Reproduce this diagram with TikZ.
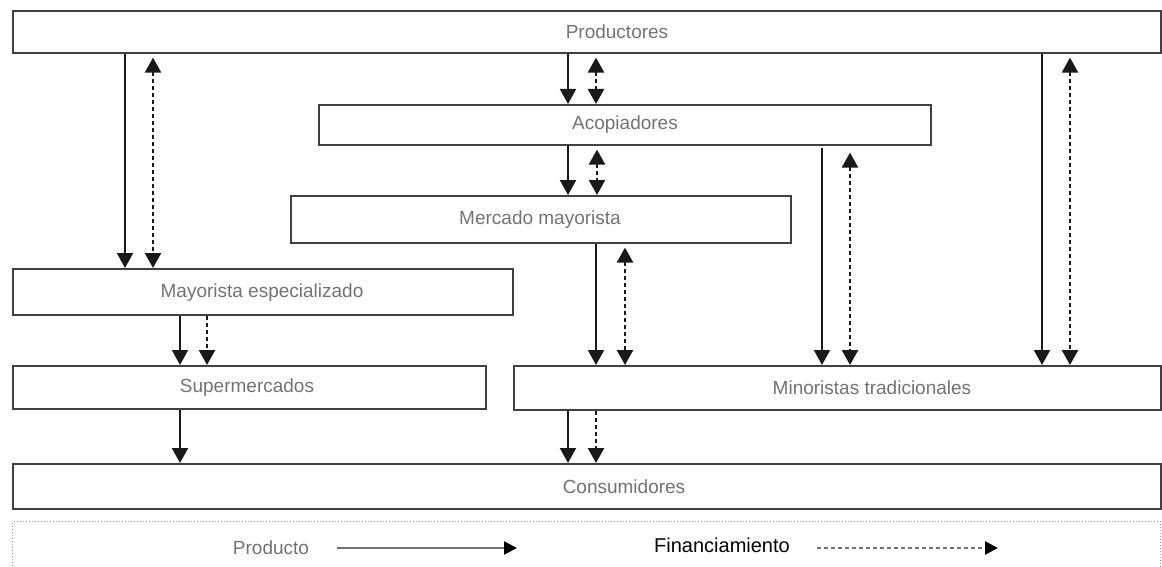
\documentclass[tikz,border=0pt]{standalone}
\usepackage{fontspec}
\setmainfont{Liberation Sans}
\usetikzlibrary{arrows.meta}
\begin{document}
\begin{tikzpicture}[x=1pt,y=-1pt,
  box/.style={draw=black!75, line width=1.6pt, inner sep=0pt, anchor=north west},
  lbl/.style={text=black!55, font=\fontsize{19}{22}\selectfont, inner sep=0pt},
  flow/.style={line width=2pt, draw=black!90, -{Triangle[length=15pt,width=16pt]}},
  fin/.style={flow, line width=2.4pt, dash pattern=on 4pt off 3pt},
  finboth/.style={fin, {Triangle[length=15pt,width=16pt]}-{Triangle[length=15pt,width=16pt]}, shorten <=4pt},
  keytip/.style={-{Triangle[length=13pt,width=13pt,color=black,fill=black]}},
]
\useasboundingbox[fill=white] (0,0) rectangle (1162,567);

% boxes of the chain
\node[box, minimum width=1148pt, minimum height=42pt] (P)  at (12,10)  {};
\node[box, minimum width=612pt,  minimum height=40pt] (A)  at (318,104) {};
\node[box, minimum width=500pt,  minimum height=47pt] (MM) at (290,195) {};
\node[box, minimum width=500pt,  minimum height=46pt] (ME) at (12,268)  {};
\node[box, minimum width=473pt,  minimum height=43pt] (S)  at (12,365)  {};
\node[box, minimum width=647pt,  minimum height=44pt] (MT) at (513,365) {};
\node[box, minimum width=1148pt, minimum height=45pt] (C)  at (12,463)  {};

% legend frame (open at the bottom edge of the page)
\node[box, draw=black!40, line width=1pt, dotted, minimum width=1148pt, minimum height=70pt] (L) at (12,521) {};

% labels
\node[lbl] (tP)  at (617,32)  {Productores};
\node[lbl] (tA)  at (625,125) {Acopiadores};
\node[lbl] (tMM) at (540,220) {Mercado mayorista};
\node[lbl] (tME) at (262,293) {Mayorista especializado};
\node[lbl] (tS)  at (247,388) {Supermercados};
\node[lbl] (tMT) at (872,388) {Minoristas tradicionales};
\node[lbl] (tC)  at (624,487) {Consumidores};

% product (solid) and finance (dashed) flows
\draw[flow]    (P.south -| 125,0) -- (ME.north -| 125,0);
\draw[finboth] (P.south -| 153,0) -- (ME.north -| 153,0);

\draw[flow]    (P.south -| 568,0) -- (A.north -| 568,0);
\draw[finboth] (P.south -| 596,0) -- (A.north -| 596,0);

\draw[flow]    (A.south -| 568,0) -- (MM.north -| 568,0);
\draw[finboth] (A.south -| 597,0) -- (MM.north -| 597,0);

\draw[flow]    (MM.south -| 596,0) -- (MT.north -| 596,0);
\draw[finboth] (MM.south -| 625,0) -- (MT.north -| 625,0);

\draw[flow, shorten <=2pt] (A.south -| 822,0) -- (MT.north -| 822,0);
\draw[finboth, shorten <=7pt] (A.south -| 850,0) -- (MT.north -| 850,0);

\draw[flow]    (P.south -| 1042,0) -- (MT.north -| 1042,0);
\draw[finboth] (P.south -| 1070,0) -- (MT.north -| 1070,0);

\draw[flow]    (ME.south -| 180,0) -- (S.north -| 180,0);
\draw[fin]     (ME.south -| 207,0) -- (S.north -| 207,0);

\draw[flow]    (S.south -| 180,0) -- (C.north -| 180,0);

\draw[flow]    (MT.south -| 568,0) -- (C.north -| 568,0);
\draw[fin]     (MT.south -| 596,0) -- (C.north -| 596,0);

% legend
\node[lbl] (lp) at (271,548) {Producto};
\coordinate (pa) at (337,548);
\coordinate (pb) at (517,548);
\draw[line width=2.4pt, draw=black!55, keytip] (pa) -- (pb);

\node[inner sep=0pt, font=\fontsize{20}{22}\selectfont] (lf) at (722,545) {Financiamiento};
\coordinate (fa) at (817,548);
\coordinate (fb) at (998,548);
\draw[line width=2.4pt, draw=black!55, dash pattern=on 4pt off 3pt, keytip] (fa) -- (fb);
\end{tikzpicture}
\end{document}
